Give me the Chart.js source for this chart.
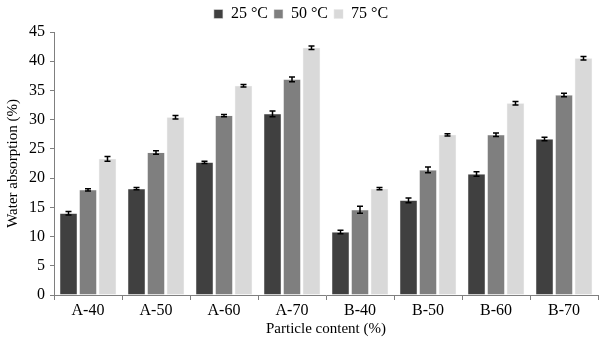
<!DOCTYPE html>
<html>
<head>
<meta charset="utf-8">
<script src="https://cdn.jsdelivr.net/npm/chart.js@4.4.1/dist/chart.umd.min.js"></script>
<style>
  html, body { margin: 0; padding: 0; background: #fff; }
  #wrap { width: 600px; height: 340px; position: relative; }
</style>
</head>
<body>
<div id="wrap"><canvas id="chart"></canvas></div>
<script>
const categories = ['A-40', 'A-50', 'A-60', 'A-70', 'B-40', 'B-50', 'B-60', 'B-70'];
const seriesNames = ['25 °C', '50 °C', '75 °C'];
const values25 = [14.0, 18.2, 22.7, 31.0, 10.8, 16.2, 20.7, 26.7];
const values50 = [18.0, 24.4, 30.7, 36.9, 14.6, 21.4, 27.4, 34.2];
const values75 = [23.3, 30.4, 35.8, 42.3, 18.2, 27.4, 32.8, 40.5];
const err25 = [0.3, 0.2, 0.2, 0.5, 0.3, 0.4, 0.4, 0.3];
const err50 = [0.2, 0.3, 0.2, 0.4, 0.6, 0.5, 0.3, 0.3];
const err75 = [0.4, 0.3, 0.2, 0.3, 0.2, 0.2, 0.3, 0.3];
const yTicks = [0, 5, 10, 15, 20, 25, 30, 35, 40, 45];

const colors = ['#404040', '#7f7f7f', '#d9d9d9'];
const errors = [err25, err50, err75];

// draws the error bars through the y scale
const errorBars = {
  id: 'errorBars',
  afterDatasetsDraw(chart) {
    const ctx = chart.ctx;
    const y = chart.scales.y;
    ctx.save();
    ctx.strokeStyle = '#000';
    ctx.lineWidth = 1.5;
    chart.data.datasets.forEach((ds, i) => {
      const meta = chart.getDatasetMeta(i);
      meta.data.forEach((bar, j) => {
        const v = ds.data[j], e = errors[i][j];
        const top = y.getPixelForValue(v + e);
        const bot = y.getPixelForValue(v - e);
        ctx.beginPath();
        ctx.moveTo(bar.x, top); ctx.lineTo(bar.x, bot);
        ctx.moveTo(bar.x - 3, top); ctx.lineTo(bar.x + 3, top);
        ctx.moveTo(bar.x - 3, bot); ctx.lineTo(bar.x + 3, bot);
        ctx.stroke();
      });
    });
    ctx.restore();
  }
};

const font = { family: '"Liberation Serif", "Times New Roman", serif', size: 16 };

new Chart(document.getElementById('chart'), {
  type: 'bar',
  data: {
    labels: categories,
    datasets: [values25, values50, values75].map((d, i) => ({
      label: seriesNames[i],
      data: d,
      backgroundColor: colors[i],
      borderColor: '#e6e6e6',
      borderWidth: 0.5,
      categoryPercentage: 0.86,
      barPercentage: 0.9
    }))
  },
  options: {
    responsive: true,
    maintainAspectRatio: false,
    animation: false,
    layout: { padding: { left: 4, right: 2, top: 0, bottom: 3 } },
    plugins: {
      legend: {
        position: 'top',
        labels: {
          font: font,
          color: '#000',
          boxWidth: 9,
          boxHeight: 9,
          padding: 6
        }
      },
      tooltip: { enabled: false }
    },
    scales: {
      x: {
        grid: { display: true, drawOnChartArea: false, offset: true, tickLength: 5, color: '#7f7f7f' },
        border: { color: '#7f7f7f', width: 1 },
        ticks: { font: { family: font.family, size: 16, lineHeight: 1 }, color: '#000', padding: 3 },
        title: { display: true, text: 'Particle content (%)', font: { family: font.family, size: 15, lineHeight: 1 }, color: '#000', padding: { top: 0, bottom: 0 } }
      },
      y: {
        min: 0,
        max: 45,
        afterBuildTicks: axis => { axis.ticks = yTicks.map(v => ({ value: v })); },
        grid: { display: true, drawOnChartArea: false, tickLength: 4, color: '#7f7f7f' },
        border: { color: '#7f7f7f', width: 1 },
        ticks: { font: font, color: '#000', padding: 5 },
        title: { display: true, text: 'Water absorption (%)', font: { family: font.family, size: 15 }, color: '#000', padding: { top: 0, bottom: 2 } }
      }
    }
  },
  plugins: [errorBars]
});
</script>
</body>
</html>
